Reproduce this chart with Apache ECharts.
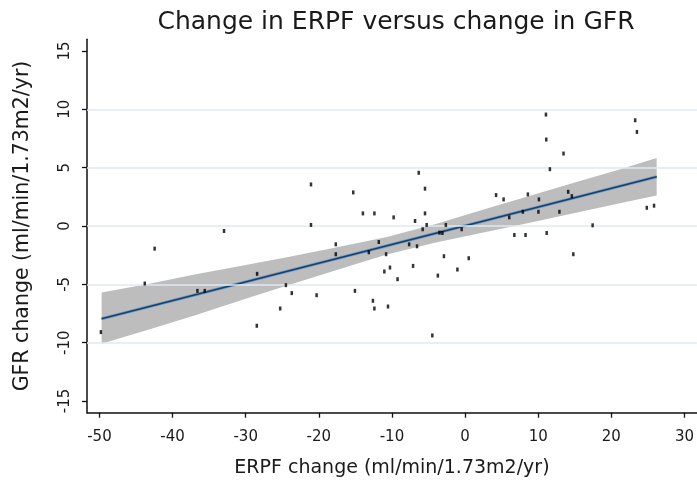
<!DOCTYPE html>
<html><head><meta charset="utf-8">
<script src="https://cdn.jsdelivr.net/npm/echarts@6/dist/echarts.min.js"></script>
<style>html,body{margin:0;padding:0;background:#fff}#c{width:697px;height:488px}</style>
</head><body><div id="c"></div>
<script>
// Scatter points: ERPF change (x) vs GFR change (y)
const ptsX = [-49.8,-43.8,-42.45,-32.96,-36.6,-35.6,-28.44,-28.48,-25.28,-24.5,-23.7,-21.07,-21.07,-20.3,-17.68,-17.68,-15.29,-15.06,-13.97,-13.16,-12.6,-12.4,-12.4,-11.8,-11.04,-10.8,-10.54,-10.27,-9.77,-9.23,-7.65,-7.11,-6.84,-6.57,-6.34,-5.8,-5.48,-5.48,-5.25,-4.48,-3.72,-3.5,-3.1,-2.89,-2.63,-1.05,-0.47,0.5,4.24,5.27,6.04,6.74,7.9,8.27,8.59,10.03,10.1,11.06,11.1,11.16,11.6,12.9,13.46,14.1,14.6,14.8,17.44,23.26,23.5,24.85,25.84];
const ptsY = [-9.09,-4.93,-1.94,-0.43,-5.56,-5.56,-4.1,-8.55,-7.07,-5.07,-5.75,3.56,0.09,-5.93,-1.57,-2.42,2.88,-5.56,1.08,-2.25,-6.41,-7.07,1.08,-1.37,-3.9,-2.42,-6.9,-3.56,0.74,-4.56,-1.57,-3.42,0.43,-1.74,4.56,-0.28,3.2,1.08,0.09,-9.38,-4.25,-0.57,-0.6,-2.59,0.09,-3.73,-0.28,-2.76,2.65,2.28,0.74,-0.77,1.22,-0.77,2.71,1.22,2.28,9.55,7.41,-0.6,4.87,1.22,6.21,2.93,2.56,-2.42,0.06,9.06,8.06,1.56,1.74];
// Fitted line end points
const fitX = [-49.7, 26.2];
const fitY = [-7.95, 4.22];
// Confidence band
const bandX = [-49.7,-43,-37,-30,-24,-17,-10.7,-4,3,9,15,21,26.2];
const bandUpper = [-5.7,-4.93,-4.16,-3.34,-2.63,-1.76,-0.95,0.18,1.5,2.61,3.72,4.83,5.82];
const bandLower = [-10.1,-8.83,-7.66,-6.24,-5.03,-3.66,-2.45,-1.42,-0.5,0.31,1.12,1.93,2.62];
// Ticks and grid lines
const xTicks = [-50,-40,-30,-20,-10,0,10,20,30];
const yTicks = [-15,-10,-5,0,5,10,15];
const gridVals = [-10,-5,0,5,10];

const FONT = 'DejaVu Sans';
const chart = echarts.init(document.getElementById('c'), null, {renderer:'canvas'});

const scatterData = ptsX.map((x,i)=>[x, ptsY[i]]);
const fitData = fitX.map((x,i)=>[x, fitY[i]]);
const bandData = bandX.map((x,i)=>[x, bandLower[i], bandUpper[i]]);

chart.setOption({
  animation:false,
  backgroundColor:'#ffffff',
  title:{
    text:'Change in ERPF versus change in GFR',
    left:391, top:5, textAlign:'center',
    textStyle:{fontFamily:FONT, fontSize:25, fontWeight:'normal', color:'#1a1a1a'}
  },
  grid:{left:87, right:-5, top:39.3, bottom:75.3, containLabel:false},
  xAxis:{
    type:'value', min:-51.7, max:31.7,
    name:'ERPF change (ml/min/1.73m2/yr)', nameLocation:'middle', nameGap:46,
    nameTextStyle:{fontFamily:FONT, fontSize:19, color:'#1a1a1a'},
    axisLine:{show:true, onZero:false, lineStyle:{color:'#111', width:1.5}},
    axisTick:{show:true, length:5, lineStyle:{color:'#111', width:1.3}, customValues:xTicks},
    axisLabel:{fontFamily:FONT, fontSize:15, color:'#1a1a1a', margin:17, customValues:xTicks, formatter:v=>String(v)},
    splitLine:{show:false}
  },
  yAxis:{
    type:'value', min:-16, max:16,
    name:'GFR change (ml/min/1.73m2/yr)', nameLocation:'middle', nameGap:54, nameRotate:90,
    nameTextStyle:{fontFamily:FONT, fontSize:20.5, color:'#1a1a1a'},
    axisLine:{show:true, onZero:false, lineStyle:{color:'#111', width:1.5}},
    axisTick:{show:true, length:5, lineStyle:{color:'#111', width:1.3}, customValues:yTicks},
    axisLabel:{fontFamily:FONT, fontSize:15, color:'#1a1a1a', rotate:90, margin:14, customValues:yTicks, formatter:v=>String(v)},
    splitLine:{show:false}
  },
  series:[
    {
      type:'line', data:[], silent:true, z:1,
      markLine:{
        silent:true, symbol:['none','none'], label:{show:false},
        lineStyle:{color:'#dfeaf1', width:1.5, type:'solid'},
        data:gridVals.map(v=>({yAxis:v}))
      }
    },
    {
      type:'custom', z:2, silent:true, data:bandData,
      encode:{x:0, y:[1,2]},
      renderItem:function(params, api){
        if(params.dataIndex !== 0) return null;
        const pts = [];
        for(let i=0;i<bandX.length;i++) pts.push(api.coord([bandX[i], bandUpper[i]]));
        for(let i=bandX.length-1;i>=0;i--) pts.push(api.coord([bandX[i], bandLower[i]]));
        return {type:'polygon', shape:{points:pts}, style:{fill:'#bdbdbd', stroke:null}};
      }
    },
    {
      type:'line', data:fitData, z:3, silent:true, symbol:'none',
      lineStyle:{color:'#6f9bc6', width:3.2}
    },
    {
      type:'line', data:fitData, z:4, silent:true, symbol:'none',
      lineStyle:{color:'#1a3f66', width:1.4}
    },
    {
      type:'scatter', data:scatterData, z:5, silent:true,
      symbol:'rect', symbolSize:[2.5,4],
      itemStyle:{color:'#000'}
    }
  ]
});
</script>
</body></html>
